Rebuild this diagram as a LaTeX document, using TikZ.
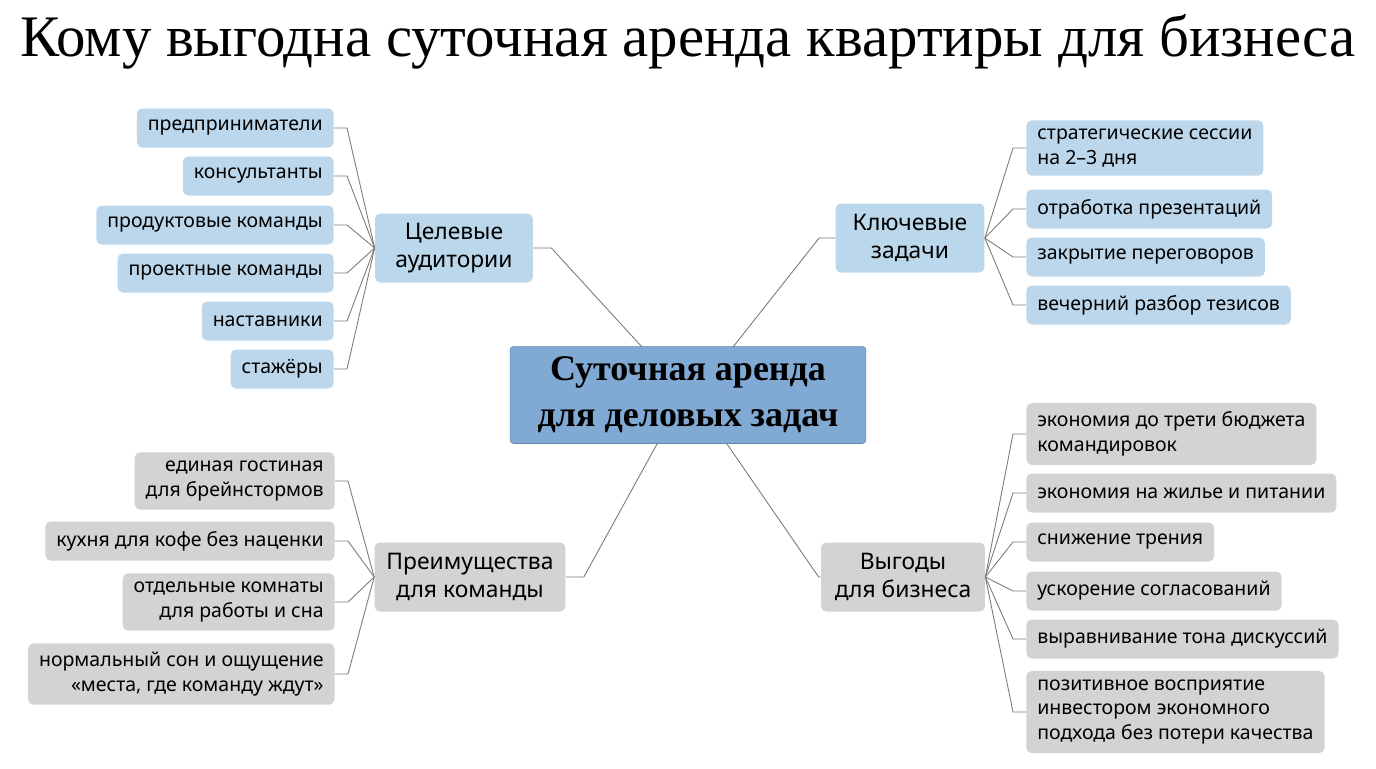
\documentclass[tikz,border=0pt]{standalone}
\usepackage{fontspec}
\setmainfont{Noto Sans}
\newfontfamily\titlefont{Liberation Serif}
\usetikzlibrary{positioning}
\definecolor{leafblue}{HTML}{BCD7EC}
\definecolor{hubblue}{HTML}{BBD7EC}
\definecolor{coreblue}{HTML}{80A9D3}
\definecolor{leafgray}{HTML}{D2D3D5}
\definecolor{linegray}{HTML}{7A7A7A}
\tikzset{
  box/.style={rounded corners=3pt, minimum height=0.78cm, inner xsep=0.22cm, inner ysep=0.17cm, font=\fontsize{11.1}{14.2}\selectfont},
  lbox/.style={box, fill=leafblue, align=right, anchor=east},
  rbox/.style={box, fill=leafblue, align=left, anchor=west},
  lgbox/.style={box, fill=leafgray, align=right, anchor=east},
  rgbox/.style={box, fill=leafgray, align=left, anchor=west},
  hub/.style={rounded corners=3pt, align=center, minimum height=1.38cm, font=\fontsize{13}{16}\selectfont},
  link/.style={draw=linegray, line width=0.5pt}
}
\begin{document}
\begin{tikzpicture}[x=0.02cm, y=-0.02cm]
  \useasboundingbox (0,0) rectangle (1376,768);
  \node[font=\titlefont\fontsize{33.5}{38}\selectfont] (title) at (688,42) {Кому выгодна суточная аренда квартиры для бизнеса};

  \node[fill=coreblue, draw=coreblue!80!black, line width=0.3pt, rounded corners=2pt, minimum width=7.12cm, minimum height=1.94cm, align=center, font=\titlefont\bfseries\fontsize{20.5}{26}\selectfont] (core) at (688,395) {Суточная аренда\\для деловых задач};

  % hubs
  \node[hub, fill=hubblue, minimum width=3.16cm] (aud) at (454,248) {Целевые\\аудитории};
  \node[hub, fill=hubblue, minimum width=2.98cm] (task) at (910,238) {Ключевые\\задачи};
  \node[hub, fill=leafgray, minimum width=3.82cm] (team) at (470,577) {Преимущества\\для команды};
  \node[hub, fill=leafgray, minimum width=3.28cm] (gain) at (903,577) {Выгоды\\для бизнеса};

  % audiences
  \node[lbox] (a1) at (334,128) {предприниматели};
  \node[lbox] (a2) at (334,176) {консультанты};
  \node[lbox] (a3) at (334,225) {продуктовые команды};
  \node[lbox] (a4) at (334,273) {проектные команды};
  \node[lbox] (a5) at (334,321) {наставники};
  \node[lbox] (a6) at (334,369) {стажёры};

  % tasks
  \node[rbox] (t1) at (1026,148) {стратегические сессии\\на 2--3 дня};
  \node[rbox] (t2) at (1026,209) {отработка презентаций};
  \node[rbox] (t3) at (1026,257) {закрытие переговоров};
  \node[rbox] (t4) at (1026,305) {вечерний разбор тезисов};

  % team
  \node[lgbox] (m1) at (335,481) {единая гостиная\\для брейнстормов};
  \node[lgbox] (m2) at (335,541) {кухня для кофе без наценки};
  \node[lgbox] (m3) at (335,602) {отдельные комнаты\\для работы и сна};
  \node[lgbox] (m4) at (335,674) {нормальный сон и ощущение\\«места, где команду ждут»};

  % business
  \node[rgbox] (g1) at (1026,434) {экономия до трети бюджета\\командировок};
  \node[rgbox] (g2) at (1026,493) {экономия на жилье и питании};
  \node[rgbox] (g3) at (1026,542) {снижение трения};
  \node[rgbox] (g4) at (1026,591) {ускорение согласований};
  \node[rgbox] (g5) at (1026,639) {выравнивание тона дискуссий};
  \node[rgbox] (g6) at (1026,712) {позитивное восприятие\\инвестором экономного\\подхода без потери качества};

  \coordinate (c1) at (642,347);
  \coordinate (c2) at (733,347);
  \coordinate (c3) at (657,444);
  \coordinate (c4) at (727,444);

  \draw[link] (aud.east) -- ++(18,0) -- (c1);
  \draw[link] (task.west) -- ++(-16,0) -- (c2);
  \draw[link] (team.east) -- ++(18,0) -- (c3);
  \draw[link] (gain.west) -- ++(-2,0) -- (c4);

  \foreach \n in {a1,a2,a3,a4,a5,a6}
    \draw[link] (\n.east) -- ++(13,0) -- (aud.west);
  \foreach \n in {m1,m2,m3,m4}
    \draw[link] (\n.east) -- ++(13,0) -- (team.west);
  \foreach \n in {t1,t2,t3,t4}
    \draw[link] (\n.west) -- ++(-13,0) -- (task.east);
  \foreach \n in {g1,g2,g3,g4,g5,g6}
    \draw[link] (\n.west) -- ++(-13,0) -- (gain.east);
\end{tikzpicture}
\end{document}
